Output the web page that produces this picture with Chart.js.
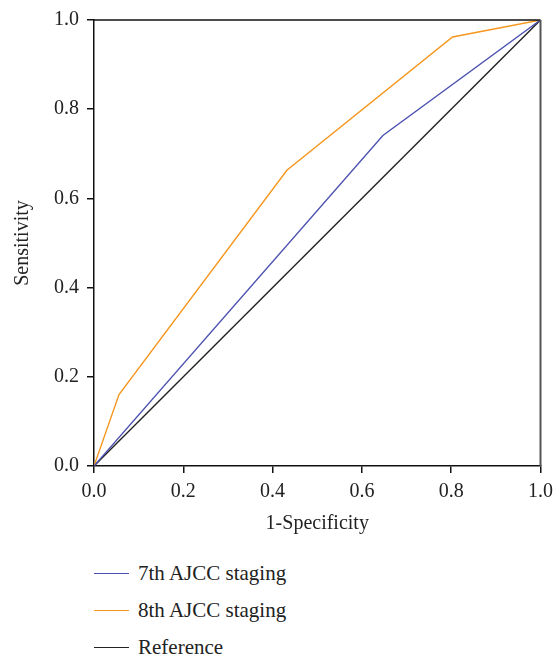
<!DOCTYPE html>
<html>
<head>
<meta charset="utf-8">
<script src="https://cdn.jsdelivr.net/npm/chart.js@4/dist/chart.umd.min.js"></script>
<style>
    body { margin: 0; background: #fff; }
    #wrap { position: relative; width: 560px; height: 656px; }
    #rocChart { position: absolute; left: 0; top: 0; }
    #legend { position: absolute; left: 94px; top: 555px; font-family: "Liberation Serif", serif; font-size: 21px; color: #222; }
    #legend div { height: 37px; display: flex; align-items: center; }
    #legend span.line { display: inline-block; width: 35px; height: 0; border-top: 1.6px solid #000; margin-right: 9px; }
</style>
</head>
<body>
<div id="wrap">
    <canvas id="rocChart" width="560" height="545"></canvas>
    <div id="legend"></div>
</div>
<script>
// ROC curves
const fpr7 = [0, 0.647, 1];
const tpr7 = [0, 0.741, 1];
const fpr8 = [0, 0.056, 0.432, 0.803, 1];
const tpr8 = [0, 0.16, 0.663, 0.962, 1];
const refX = [0, 1];
const refY = [0, 1];
const seriesNames = ["7th AJCC staging", "8th AJCC staging", "Reference"];
const seriesColors = ["#4c52b0", "#f5961e", "#222222"];
const tickFont = { family: "Liberation Serif", size: 20 };

function toPoints(xs, ys) {
    return xs.map(function(x, i) { return { x: x, y: ys[i] }; });
}

// top and right edges of the plot frame
const framePlugin = {
    id: "frame",
    afterDraw: function(chart) {
        const a = chart.chartArea;
        const c = chart.ctx;
        c.save();
        c.lineWidth = 1.5;
        c.strokeStyle = "#111";
        c.beginPath();
        c.moveTo(a.left, a.top);
        c.lineTo(a.right, a.top);
        c.stroke();
        c.strokeStyle = "#555";
        c.lineWidth = 2;
        c.beginPath();
        c.moveTo(a.right, a.top);
        c.lineTo(a.right, a.bottom);
        c.stroke();
        c.restore();
    }
};

document.addEventListener("DOMContentLoaded", function() {
    const ctx = document.getElementById("rocChart").getContext("2d");
    const chart = new Chart(ctx, {
        type: "line",
        data: {
            datasets: [
                { label: seriesNames[0], data: toPoints(fpr7, tpr7), borderColor: seriesColors[0] },
                { label: seriesNames[1], data: toPoints(fpr8, tpr8), borderColor: seriesColors[1] },
                { label: seriesNames[2], data: toPoints(refX, refY), borderColor: seriesColors[2] }
            ]
        },
        options: {
            responsive: false,
            animation: false,
            layout: { padding: { top: 18, right: 19, left: 0, bottom: 0 } },
            elements: {
                line: { borderWidth: 1.4, tension: 0 },
                point: { radius: 0 }
            },
            plugins: {
                legend: { display: false },
                tooltip: { enabled: false }
            },
            scales: {
                x: {
                    type: "linear",
                    min: 0,
                    max: 1,
                    afterFit: function(scale) { scale.height = 79; },
                    grid: { drawOnChartArea: false, drawTicks: true, tickLength: 7, color: "#111", lineWidth: 1.5 },
                    border: { display: true, color: "#111", width: 1.5 },
                    ticks: {
                        stepSize: 0.2,
                        padding: 7,
                        color: "#222",
                        font: tickFont,
                        callback: function(v) { return v.toFixed(1); }
                    },
                    title: { display: true, text: "1-Specificity", color: "#222", font: tickFont, padding: { top: 0, bottom: 9 } }
                },
                y: {
                    type: "linear",
                    min: 0,
                    max: 1,
                    afterFit: function(scale) { scale.width = 94; },
                    grid: { drawOnChartArea: false, drawTicks: true, tickLength: 7, color: "#111", lineWidth: 1.5 },
                    border: { display: true, color: "#111", width: 1.5 },
                    ticks: {
                        stepSize: 0.2,
                        padding: 8,
                        color: "#222",
                        font: tickFont,
                        callback: function(v) { return v.toFixed(1); }
                    },
                    title: { display: true, text: "Sensitivity", color: "#222", font: tickFont, padding: { top: 11, bottom: 0 } }
                }
            }
        },
        plugins: [framePlugin]
    });

    const legend = document.getElementById("legend");
    chart.data.datasets.forEach(function(ds) {
        const row = document.createElement("div");
        const line = document.createElement("span");
        line.className = "line";
        line.style.borderTopColor = ds.borderColor;
        row.appendChild(line);
        row.appendChild(document.createTextNode(ds.label));
        legend.appendChild(row);
    });
});
</script>
</body>
</html>
